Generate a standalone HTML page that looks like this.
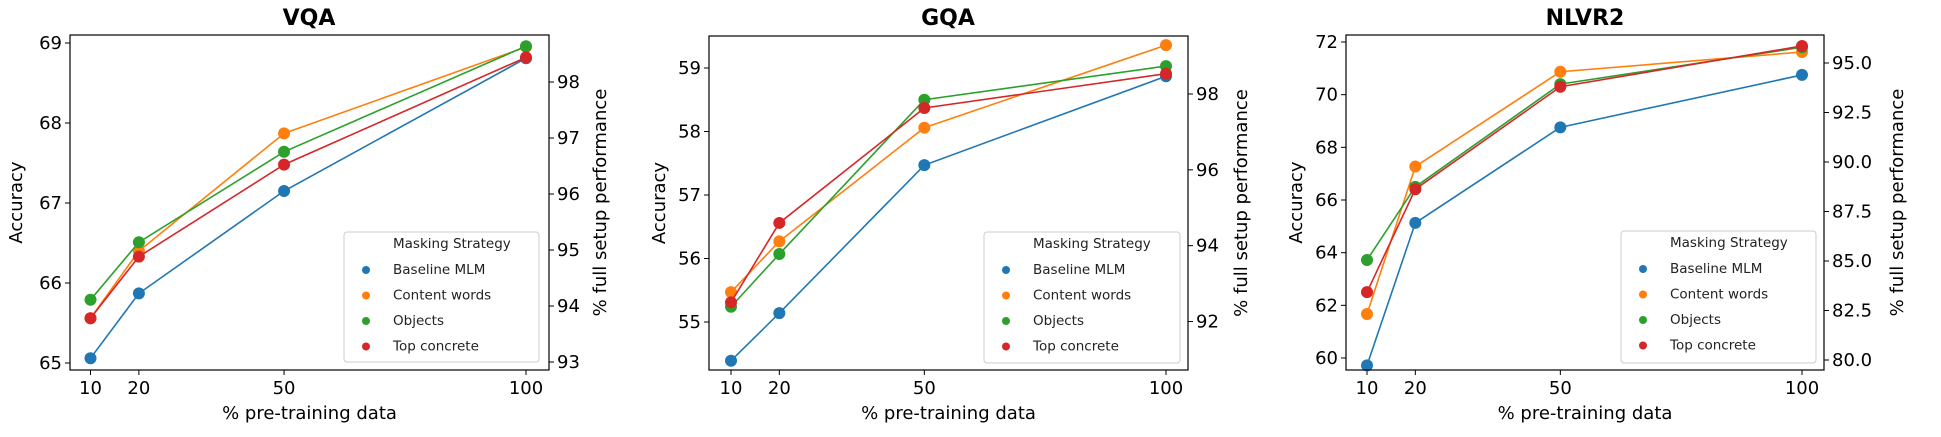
<!DOCTYPE html>
<html><head><meta charset="utf-8">
<style>
html,body{margin:0;padding:0;background:#fff;}
svg{display:block;font-family:"DejaVu Sans","Liberation Sans",sans-serif;}
</style></head>
<body>
<svg id="chart" width="1941" height="437" viewBox="0 0 1941 437" xmlns="http://www.w3.org/2000/svg"></svg>
<script>
const xCategories = [10, 20, 50, 100];
const seriesNames = ["Baseline MLM", "Content words", "Objects", "Top concrete"];
const seriesColors = ["#1f77b4", "#ff7f0e", "#2ca02c", "#d62728"];

const vqaBaseline = [65.06, 65.87, 67.15, 68.81];
const vqaContent = [65.56, 66.40, 67.87, 68.95];
const vqaObjects = [65.79, 66.51, 67.64, 68.96];
const vqaTop = [65.56, 66.33, 67.48, 68.82];
const vqaLeftTicks = ["65", "66", "67", "68", "69"];
const vqaRightTicks = ["93", "94", "95", "96", "97", "98"];

const gqaBaseline = [54.39, 55.14, 57.47, 58.87];
const gqaContent = [55.47, 56.27, 58.06, 59.36];
const gqaObjects = [55.24, 56.07, 58.50, 59.03];
const gqaTop = [55.31, 56.56, 58.37, 58.91];
const gqaLeftTicks = ["55", "56", "57", "58", "59"];
const gqaRightTicks = ["92", "94", "96", "98"];

const nlvrBaseline = [59.72, 65.13, 68.76, 70.75];
const nlvrContent = [61.67, 67.27, 70.87, 71.62];
const nlvrObjects = [63.72, 66.50, 70.40, 71.80];
const nlvrTop = [62.50, 66.41, 70.30, 71.85];
const nlvrLeftTicks = ["60", "62", "64", "66", "68", "70", "72"];
const nlvrRightTicks = ["80.0", "82.5", "85.0", "87.5", "90.0", "92.5", "95.0"];

const NS = "http://www.w3.org/2000/svg";
const svg = document.getElementById("chart");
function mk(tag, attrs, parent) {
  const e = document.createElementNS(NS, tag);
  for (const k in attrs) e.setAttribute(k, attrs[k]);
  (parent || svg).appendChild(e);
  return e;
}

const panels = [
  {key:"vqa", title:"VQA", series:[vqaBaseline,vqaContent,vqaObjects,vqaTop],
   box:[70,35,549,370], x10:90.5, x100:526, yv:[65,69], yp:[363,43],
   lt:vqaLeftTicks, rt:vqaRightTicks, rv:[93,98], rp:[362,82],
   titleX:309, accX:16, rightX:600, legend:[344,232,195,130]},
  {key:"gqa", title:"GQA", series:[gqaBaseline,gqaContent,gqaObjects,gqaTop],
   box:[709,36,1188,370], x10:731, x100:1166, yv:[55,59], yp:[322,68],
   lt:gqaLeftTicks, rt:gqaRightTicks, rv:[92,98], rp:[321.5,94],
   titleX:948, accX:659, rightX:1241, legend:[984,232,196,131]},
  {key:"nlvr2", title:"NLVR2", series:[nlvrBaseline,nlvrContent,nlvrObjects,nlvrTop],
   box:[1346,35,1824,370], x10:1367, x100:1802, yv:[60,72], yp:[358,42],
   lt:nlvrLeftTicks, rt:nlvrRightTicks, rv:[80,95], rp:[360,63],
   titleX:1585, accX:1296, rightX:1897, legend:[1621,231,195,132]}
];

panels.forEach(p => {
  const g = mk("g", {});
  
  
  const xs = v => p.x10 + (v - 10) * (p.x100 - p.x10) / 90;
  const ys = v => p.yp[0] + (v - p.yv[0]) * (p.yp[1] - p.yp[0]) / (p.yv[1] - p.yv[0]);
  const rs = v => p.rp[0] + (v - p.rv[0]) * (p.rp[1] - p.rp[0]) / (p.rv[1] - p.rv[0]);
  const [L,T,R,B] = p.box;

  const t = mk("text", {x:p.titleX, y:25, "text-anchor":"middle", "font-size":"22", "font-weight":"bold", fill:"#000"}, g);
  t.textContent = p.title;
  
  

  p.lt.forEach(lbl => {
    const y = ys(parseFloat(lbl));
    mk("line", {x1:L-5, x2:L, y1:y, y2:y, stroke:"#000", "stroke-width":1}, g);
    const tt = mk("text", {x:L-8, y:y+6, "text-anchor":"end", "font-size":"18", fill:"#000"}, g);
    tt.textContent = lbl;
    
    
  });
  p.rt.forEach(lbl => {
    const y = rs(parseFloat(lbl));
    mk("line", {x1:R, x2:R+5, y1:y, y2:y, stroke:"#000", "stroke-width":1}, g);
    const tt = mk("text", {x:R+8, y:y+6, "text-anchor":"start", "font-size":"18", fill:"#000"}, g);
    tt.textContent = lbl;
    
    
  });
  xCategories.forEach(c => {
    const x = xs(c);
    mk("line", {x1:x, x2:x, y1:B, y2:B+5, stroke:"#000", "stroke-width":1}, g);
    const tt = mk("text", {x:x, y:B+24, "text-anchor":"middle", "font-size":"18", fill:"#000"}, g);
    tt.textContent = c;
    
    
  });
  const xl = mk("text", {x:(L+R)/2, y:419, "text-anchor":"middle", "font-size":"18", fill:"#000"}, g);
  xl.textContent = "% pre-training data";
  
  
  const yl = mk("text", {x:0, y:0, transform:`translate(${p.accX+6},${(T+B)/2}) rotate(-90)`, "text-anchor":"middle", "font-size":"18", fill:"#000"}, g);
  yl.textContent = "Accuracy";
  
  
  const rl = mk("text", {x:0, y:0, transform:`translate(${p.rightX+6},${(T+B)/2}) rotate(-90)`, "text-anchor":"middle", "font-size":"18", fill:"#000"}, g);
  rl.textContent = "% full setup performance";
  
  

  p.series.forEach((vals, si) => {
    const pts = vals.map((v,i) => xs(xCategories[i]) + "," + ys(v)).join(" ");
    const pl = mk("polyline", {points:pts, fill:"none", stroke:seriesColors[si], "stroke-width":1.6}, g);
    
    
    vals.forEach((v,i) => {
      const c = mk("circle", {cx:xs(xCategories[i]), cy:ys(v), r:6, fill:seriesColors[si]}, g);
      
      
    });
  });

  mk("rect", {x:L, y:T, width:R-L, height:B-T, fill:"none", stroke:"#000", "stroke-width":1.2}, g);

  const [lx,ly,lw,lh] = p.legend;
  const lg = mk("g", {}, g);
  
  
  mk("rect", {x:lx, y:ly, width:lw, height:lh, rx:3, fill:"#fff", "fill-opacity":0.85, stroke:"#ccc", "stroke-width":1}, lg);
  const lt = mk("text", {x:lx+49, y:ly+16, "font-size":"13.5", fill:"#222"}, lg);
  lt.textContent = "Masking Strategy";
  
  
  seriesNames.forEach((n, si) => {
    const yy = ly + 37 + si * 25.5;
    const c = mk("circle", {cx:lx+22, cy:yy+1, r:4, fill:seriesColors[si]}, lg);
    
    
    const tx = mk("text", {x:lx+49, y:yy+5, "font-size":"13.5", fill:"#222"}, lg);
    tx.textContent = n;
    
    
  });
});
</script>
</body></html>
